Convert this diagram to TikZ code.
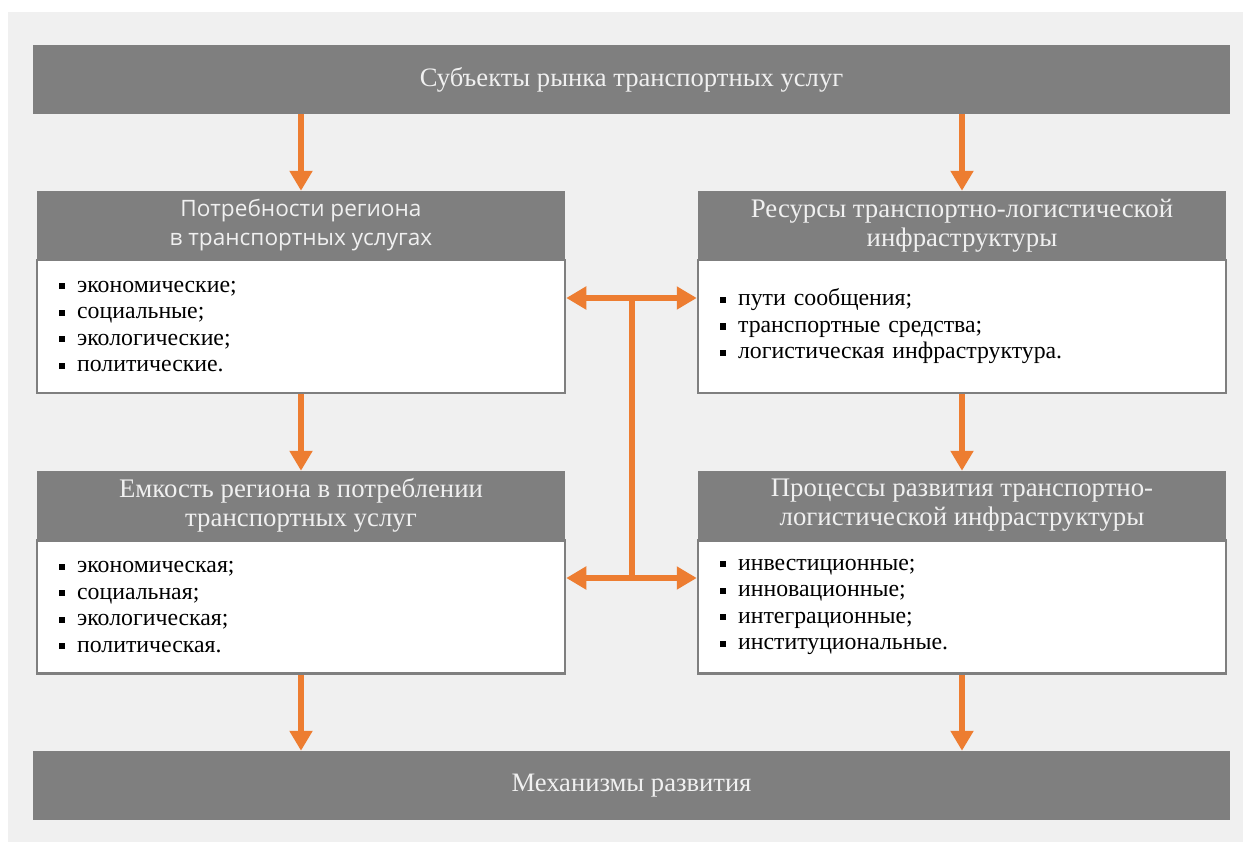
\documentclass[tikz,border=0pt]{standalone}
\usepackage{fontspec}
\setmainfont{Liberation Serif}
\newfontfamily\hdsans{Open Sans}
\usetikzlibrary{arrows.meta}
\definecolor{bgfill}{HTML}{F0F0F0}
\definecolor{barfill}{HTML}{7F7F7F}
\definecolor{arrowc}{HTML}{ED7D31}
\newcommand{\itm}{\rule[0.12em]{0.26em}{0.26em}\hspace{0.5em}}
\begin{document}
\begin{tikzpicture}[x=1pt,y=-1pt]
\tikzstyle{every node}+=[inner sep=0pt]
\tikzstyle{bar}=[fill=barfill, text=bgfill, minimum width=1197pt, minimum height=69pt, font=\fontsize{26.6}{30}\selectfont]
\tikzstyle{head}=[fill=barfill, text=bgfill, minimum width=528pt, minimum height=69pt, align=center, font=\fontsize{26.8}{29}\selectfont]
\tikzstyle{body}=[fill=white, draw=barfill, line width=2.5pt, minimum width=528pt, minimum height=133pt, inner xsep=22pt, text width=484pt, align=left, font=\fontsize{23.8}{26.5}\selectfont]
\tikzstyle{arr}=[draw=arrowc, line width=6.5pt, -{Triangle[length=20pt,width=22pt]}]
\useasboundingbox (0,0) rectangle (1243,842);
\fill [bgfill] (8,12) rectangle (1243,842);
% top and bottom bars
\node [bar] (subj) at (631.5,79.5) {Субъекты рынка транспортных услуг};
\node [bar] (mech) at (631.5,785.5) {Механизмы развития};
% left column
\node [head, font=\hdsans\fontsize{22.6}{29}\selectfont] (needH) at (301,225.5) {Потребности региона\\в транспортных услугах};
\node [body] (needB) at (301,326.5) {\itm экономические;\\\itm социальные;\\\itm экологические;\\\itm политические.};
\node [head] (capH) at (301,505.5) {Емкость региона в потреблении\\транспортных услуг};
\node [body] (capB) at (301,607) {\itm экономическая;\\\itm социальная;\\\itm экологическая;\\\itm политическая.};
% right column
\node [head] (resH) at (962,225.5) {Ресурсы транспортно-логистической\\инфраструктуры};
\node [body] (resB) at (962,326.5) {\itm пути сообщения;\\\itm транспортные средства;\\\itm логистическая инфраструктура.};
\node [head] (procH) at (962,505.5) {Процессы развития транспортно-\\логистической инфраструктуры};
\node [body] (procB) at (962,607) {\itm инвестиционные;\\\itm инновационные;\\\itm интеграционные;\\\itm институциональные.};
% vertical arrows
\draw [arr] (needH.north |- subj.south) -- (needH.north);
\draw [arr] (resH.north |- subj.south) -- (resH.north);
\draw [arr] (needB.south) -- (capH.north);
\draw [arr] (resB.south) -- (procH.north);
\draw [arr] (capB.south) -- (capB.south |- mech.north);
\draw [arr] (procB.south) -- (procB.south |- mech.north);
% links between columns
\coordinate (jt) at (632,298);
\coordinate (jb) at (632,578);
\draw [draw=arrowc, line width=6.5pt] (jt) -- (jb);
\draw [arr] (jt) -- (needB.east |- jt);
\draw [arr] (jt) -- (resB.west |- jt);
\draw [arr] (jb) -- (capB.east |- jb);
\draw [arr] (jb) -- (procB.west |- jb);
\end{tikzpicture}
\end{document}
